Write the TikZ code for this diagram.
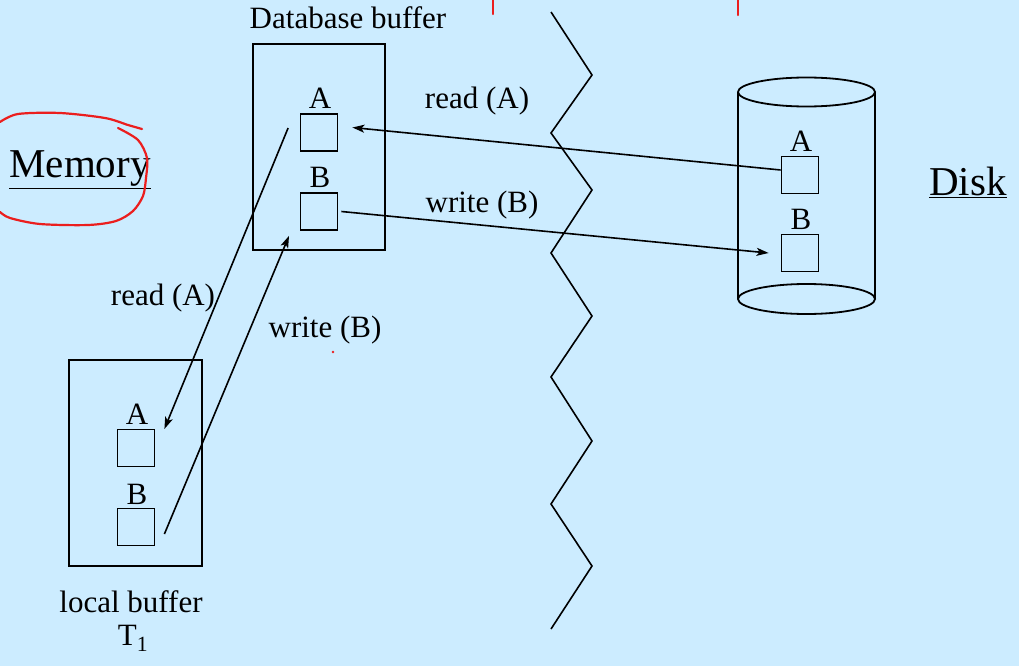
\documentclass[tikz,border=0pt]{standalone}
\usepackage{fontspec}
\setmainfont{Liberation Serif}
\usetikzlibrary{arrows.meta}
\definecolor{bg}{RGB}{204,236,255}
\definecolor{redpen}{RGB}{235,30,30}
\begin{document}
\begin{tikzpicture}[x=1pt,y=-1pt,
  sq/.style={draw,line width=1.8pt,minimum size=37pt,inner sep=0pt},
  lbl/.style={font=\fontsize{31}{36}\selectfont,inner sep=0pt},
  big/.style={font=\fontsize{41}{48}\selectfont,inner sep=0pt},
  conn/.style={line width=1.6pt,-{Stealth[length=12pt,width=8pt,inset=3pt]}},
  frame/.style={draw,line width=1.8pt},
  ink/.style={draw=redpen,line width=2.2pt,line cap=round,line join=round}
]
\fill[bg] (0,0) rectangle (1019,666);
\useasboundingbox (0,0) rectangle (1019,666);

% database buffer
\draw[frame] (253,44) rectangle (385,250);
\node[lbl] (dbt) at (348,18) {Database buffer};
\node[sq] (bA) at (319,132.5) {};
\node[sq] (bB) at (319,211.5) {};
\node[lbl] (bAl) at (320,98) {A};
\node[lbl] (bBl) at (320,177) {B};

% local buffer
\draw[frame] (69,360) rectangle (202,566);
\node[sq] (lA) at (136,448) {};
\node[sq] (lB) at (136,527) {};
\node[lbl] (lAl) at (137,414) {A};
\node[lbl] (lBl) at (137,494) {B};
\node[lbl] (lbt) at (131,602) {local buffer};
\node[lbl] (tt) at (133,638) {T\textsubscript{1}};

% disk cylinder
\draw[line width=1.8pt] (806.5,92) ellipse [x radius=68.5pt, y radius=14.5pt];
\draw[line width=1.8pt] (806.5,299) ellipse [x radius=68.5pt, y radius=15pt];
\draw[line width=1.8pt] (738,92) -- (738,299);
\draw[line width=1.8pt] (875,92) -- (875,299);
\node[sq] (dA) at (800,175) {};
\node[sq] (dB) at (800,253) {};
\node[lbl] (dAl) at (801,141) {A};
\node[lbl] (dBl) at (801,219) {B};

% zigzag
\draw[line width=1.6pt,line join=miter]
  (551,12) -- (592,75) -- (551,133) -- (592,190) -- (551,253) -- (592,316)
  -- (551,377) -- (592,441) -- (551,504) -- (592,566) -- (551,629);

% titles
\node[big] (mem) at (80,170) {\underline{Memory}};
\node[big] (disk) at (968,182) {\underline{Disk}};

% arrows
\draw[conn] ([yshift=5pt]dA.west) -- ([xshift=14pt,yshift=5pt]bA.east);
\draw[conn] ([xshift=3pt]bB.east) -- ([xshift=-12pt]dB.west);
\draw[conn] ([xshift=-11.5pt,yshift=4.5pt]bA.west) -- ([xshift=9pt,yshift=19pt]lA.east);
\draw[conn] ([xshift=9pt,yshift=-7pt]lB.east) -- ([xshift=-30pt,yshift=-5pt]bB.south);

\node[lbl] (r1) at (477,101) {read (A)};
\node[lbl] (w1) at (482,205) {write (B)};
\node[lbl] (r2) at (163,298) {read (A)};
\node[lbl] (w2) at (325,330) {write (B)};

% red annotations
\draw[ink] plot[smooth] coordinates {(0,122) (18,114) (60,113) (105,118) (128,125) (142,129)};
\draw[ink] plot[smooth] coordinates {(118,128) (138,140) (147,158) (146,178) (143,196) (133,211) (116,221) (88,225) (40,224) (10,218) (0,212)};
\draw[ink] (493,0) -- (493,14);
\draw[ink] (738,0) -- (738,15);
\fill[redpen] (333,352) circle (1.3pt);
\end{tikzpicture}
\end{document}
